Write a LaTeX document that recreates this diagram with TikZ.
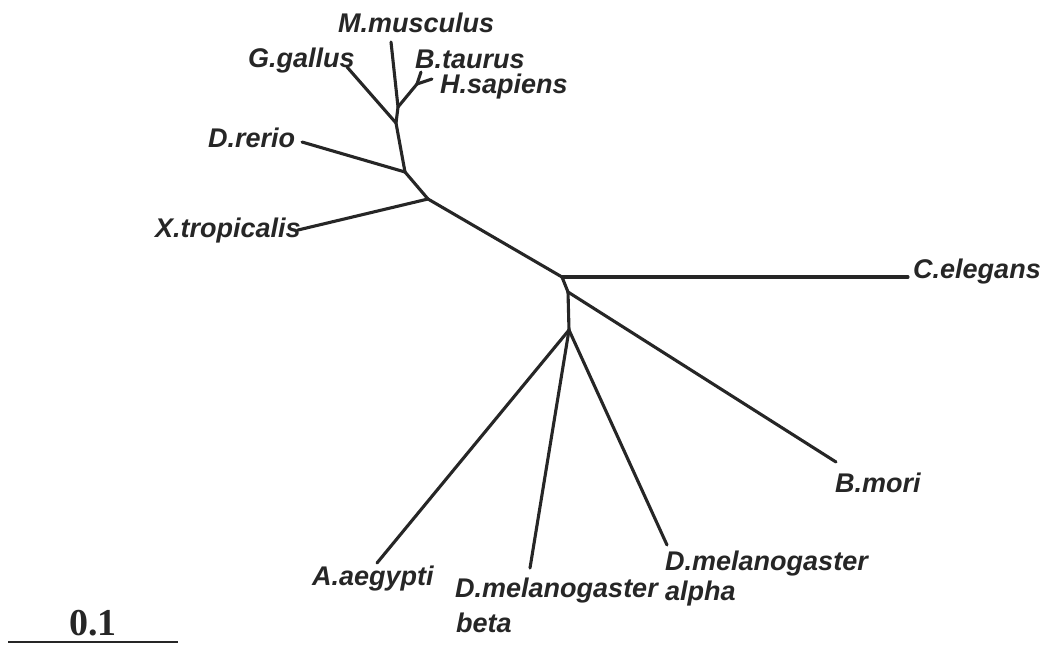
\documentclass[tikz,border=0pt]{standalone}
\usepackage{fontspec}
\setmainfont{Liberation Sans}
\newfontfamily\scalefont{Liberation Serif}
\begin{document}
\begin{tikzpicture}[x=1pt,y=-1pt,
  br/.style={line width=3.1pt, line cap=round, line join=round, draw=black!85},
  lbl/.style={font=\fontsize{27}{30}\selectfont\bfseries\itshape, inner sep=0pt, anchor=base west, text=black!85}]
\useasboundingbox (0,0) rectangle (1048,645);
% internal nodes
\coordinate (n1) at (396,123);
\coordinate (n2) at (398,107);
\coordinate (n3) at (417,84);
\coordinate (n4) at (405,172);
\coordinate (n5) at (428,199);
\coordinate (n6) at (562,277);
\coordinate (n7) at (568,292);
\coordinate (n8) at (569,330);
% tips
\coordinate (tM) at (391,42);
\coordinate (tB) at (421,72);
\coordinate (tH) at (432,79);
\coordinate (tG) at (347,67);
\coordinate (tD) at (302,142);
\coordinate (tX) at (298,230);
\coordinate (tC) at (908,277);
\coordinate (tBm) at (836,462);
\coordinate (tA) at (377,563);
\coordinate (tDb) at (530,568);
\coordinate (tDa) at (667,545);
% branches
\draw[br] (n2) -- (tM);
\draw[br] (n2) -- (n3);
\draw[br] (n3) -- (tB);
\draw[br] (n3) -- (tH);
\draw[br] (n1) -- (n2);
\draw[br] (n1) -- (tG);
\draw[br] (n1) -- (n4);
\draw[br] (n4) -- (tD);
\draw[br] (n4) -- (n5);
\draw[br] (n5) -- (tX);
\draw[br] (n5) -- (n6);
\draw[br] (n6) -- (tC);
\draw[br] (n6) -- (n7);
\draw[br] (n7) -- (tBm);
\draw[br] (n7) -- (n8);
\draw[br] (n8) -- (tA);
\draw[br] (n8) -- (tDb);
\draw[br] (n8) -- (tDa);
% labels
\node[lbl] (lM) at (338,32) {M.musculus};
\node[lbl] (lG) at (248,67) {G.gallus};
\node[lbl] (lB) at (415,68) {B.taurus};
\node[lbl] (lH) at (440,93) {H.sapiens};
\node[lbl] (lD) at (208,147) {D.rerio};
\node[lbl] (lX) at (155,237) {X.tropicalis};
\node[lbl] (lC) at (913,278) {C.elegans};
\node[lbl] (lBm) at (835,492) {B.mori};
\node[lbl] (lA) at (312,585) {A.aegypti};
\node[lbl] (lDb) at (455,597) {D.melanogaster};
\node[lbl] (lDb2) at (456,632) {beta};
\node[lbl] (lDa) at (665,570) {D.melanogaster};
\node[lbl] (lDa2) at (665,600) {alpha};
% scale bar
\coordinate (s1) at (8,642);
\coordinate (s2) at (178,642);
\draw[line width=1.6pt, draw=black!85] (s1) -- (s2);
\node[font=\fontsize{38}{40}\selectfont\scalefont\bfseries, inner sep=0pt, anchor=base, text=black!85] (sl) at (93,635) {0.1};
\end{tikzpicture}
\end{document}
